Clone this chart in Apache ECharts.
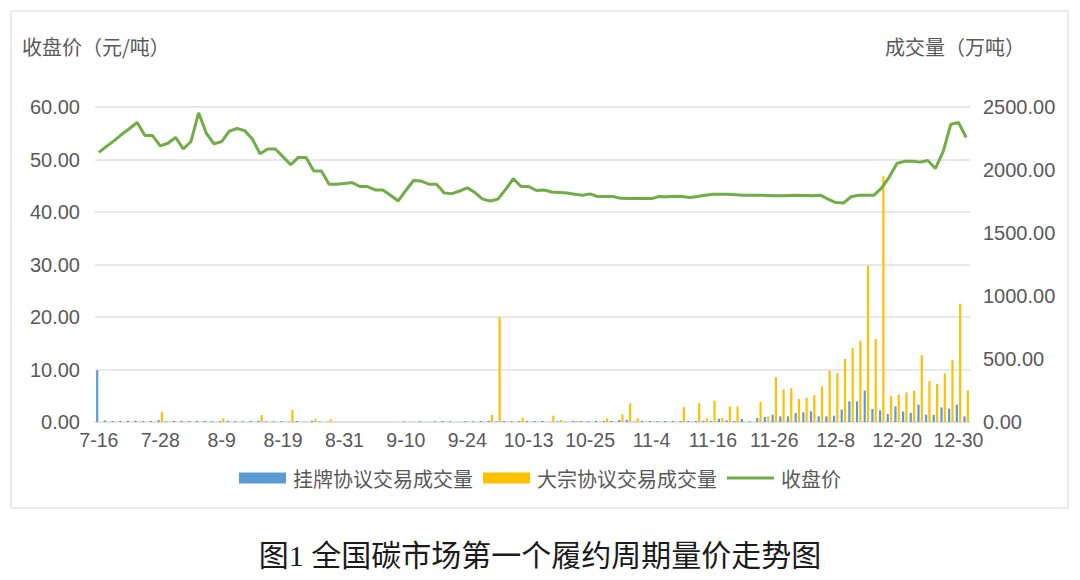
<!DOCTYPE html>
<html>
<head>
<meta charset="utf-8">
<script src="https://cdn.jsdelivr.net/npm/echarts@6/dist/echarts.min.js"></script>
<style>
html,body{margin:0;padding:0;background:#fff;}
#chart{width:1080px;height:580px;}
</style>
</head>
<body>
<div id="chart"></div>
<script>
var dates = [
'7-16','7-19','7-20','7-21','7-22','7-23','7-26','7-27','7-28','7-29','7-30',
'8-2','8-3','8-4','8-5','8-6','8-9','8-10','8-11','8-12','8-13','8-16','8-17','8-18','8-19','8-20','8-23','8-24','8-25','8-26','8-27','8-30','8-31',
'9-1','9-2','9-3','9-6','9-7','9-8','9-9','9-10','9-13','9-14','9-15','9-16','9-17','9-22','9-23','9-24','9-27','9-28','9-29','9-30',
'10-8','10-11','10-12','10-13','10-14','10-15','10-18','10-19','10-20','10-21','10-22','10-25','10-26','10-27','10-28','10-29',
'11-1','11-2','11-3','11-4','11-5','11-8','11-9','11-10','11-11','11-12','11-15','11-16','11-17','11-18','11-19','11-22','11-23','11-24','11-25','11-26','11-29','11-30',
'12-1','12-2','12-3','12-6','12-7','12-8','12-9','12-10','12-13','12-14','12-15','12-16','12-17','12-20','12-21','12-22','12-23','12-24','12-27','12-28','12-29','12-30','12-31'
];

var closePrice = [
51.35,52.5,53.6,54.8,55.9,57.05,54.55,54.55,52.6,53.1,54.2,
52.0,53.4,58.9,55.0,53.0,53.4,55.4,55.9,55.5,53.9,51.1,52.0,52.0,50.5,49.0,50.4,50.4,47.8,47.8,45.3,45.3,45.45,
45.6,44.85,44.85,44.2,44.2,43.2,42.1,44.1,46.0,45.9,45.3,45.3,43.6,43.5,44.0,44.6,43.7,42.45,42.1,42.45,
44.3,46.35,44.85,44.85,44.1,44.2,43.8,43.7,43.6,43.4,43.2,43.45,42.95,42.95,42.95,42.6,
42.55,42.55,42.55,42.55,42.95,42.9,43.0,42.95,42.75,42.95,43.2,43.4,43.4,43.4,43.3,43.2,43.2,43.2,43.15,43.1,43.1,43.15,
43.2,43.15,43.1,43.2,42.45,41.8,41.7,42.9,43.2,43.2,43.2,44.6,46.7,49.3,49.65,49.65,49.5,49.8,48.3,51.5,56.7,57.05,54.2
];

var listedVolume = [
410,12,8,10,9,11,7,9,14,6,8,
10,7,9,8,6,8,10,7,6,8,9,5,6,7,3,8,2,10,4,3,1,1,
0.5,0.5,0.5,0.5,0.5,0.5,0.5,5,1,6,1,6,8,6,1,7,6,8,10,5,
8,7,7,9,7,8,2,6,2,8,7,7,9,8,9,15,
18,3,8,8,7,8,7,8,9,8,10,8,25,13,8,24,6,32,40,58,45,45,
71,77,85,45,45,50,98,164,164,249,103,93,64,124,82,71,138,58,56,116,106,138,45
];

var blockVolume = [
0,0,0,0,0,0,0,0,80,0,0,
0,0,0,0,0,30,0,0,0,0,55,0,0,0,95,0,0,24,0,24,0,0,
0,0,0,0,0,0,0,0,0,0,0,0,0,0,0,0,0,0,55,833,
0,0,34,0,0,0,50,15,0,8,0,0,0,29,0,61,
148,29,0,0,0,0,0,121,0,148,29,169,32,124,124,0,0,159,45,355,257,267,
183,193,214,283,407,389,500,587,646,1241,659,1950,204,214,235,249,529,325,302,384,490,939,251
];

var leftTicks = {min: 0, max: 60, interval: 10};
var rightTicks = {min: 0, max: 2500, interval: 500};

var txt = '#595959';
var numFont = "'Liberation Sans', 'Noto Sans CJK SC', sans-serif";
var cjkFont = "'Noto Sans CJK SC', 'Liberation Sans', sans-serif";

var chart = echarts.init(document.getElementById('chart'), null, {renderer: 'svg'});
chart.setOption({
  backgroundColor: '#ffffff',
  animation: false,
  title: {
    text: '图1 全国碳市场第一个履约周期量价走势图',
    left: 'center',
    top: 535,
    textStyle: {fontFamily: "'Liberation Serif', 'Noto Sans CJK SC', serif", fontSize: 30, fontWeight: 'normal', color: '#1a1a1a'}
  },
  graphic: [
    {type: 'rect', shape: {x: 11, y: 11, width: 1057, height: 497}, style: {fill: 'none', stroke: '#e2e4ea', lineWidth: 1.5}, z: -1},
    {type: 'text', left: 22, top: 36, style: {text: '收盘价（元/吨）', fontFamily: cjkFont, fontSize: 20, fill: txt}},
    {type: 'text', right: 55, top: 36, style: {text: '成交量（万吨）', fontFamily: cjkFont, fontSize: 20, fill: txt}}
  ],
  legend: {
    top: 463,
    left: 'center',
    itemWidth: 47,
    itemHeight: 11,
    itemGap: 10,
    symbolKeepAspect: true,
    textStyle: {fontFamily: cjkFont, fontSize: 20, color: txt, padding: [0, 0, 0, 2]},
    data: [
      {name: '挂牌协议交易成交量', icon: 'rect'},
      {name: '大宗协议交易成交量', icon: 'rect'},
      {name: '收盘价', icon: 'path://M0,0L47,0L47,3L0,3Z'}
    ]
  },
  grid: {left: 95, right: 110, top: 107, bottom: 158, containLabel: false},
  xAxis: {
    type: 'category',
    data: dates,
    boundaryGap: true,
    axisTick: {show: false},
    axisLine: {lineStyle: {color: '#dfe1e8', width: 1.5}},
    axisLabel: {interval: 7, color: txt, fontSize: 19.5, fontFamily: numFont, margin: 8}
  },
  yAxis: [
    {
      type: 'value',
      min: leftTicks.min, max: leftTicks.max, interval: leftTicks.interval,
      axisLine: {show: false},
      axisTick: {show: false},
      splitLine: {lineStyle: {color: '#dfe1e8', width: 1.5}},
      axisLabel: {color: txt, fontSize: 20, fontFamily: numFont, margin: 15,
        formatter: function (v) { return v.toFixed(2); }}
    },
    {
      type: 'value',
      min: rightTicks.min, max: rightTicks.max, interval: rightTicks.interval,
      axisLine: {show: false},
      axisTick: {show: false},
      splitLine: {show: false},
      axisLabel: {color: txt, fontSize: 20, fontFamily: numFont, margin: 13,
        formatter: function (v) { return v.toFixed(2); }}
    }
  ],
  series: [
    {
      name: '挂牌协议交易成交量',
      type: 'bar',
      yAxisIndex: 1,
      data: listedVolume,
      barWidth: 2.2,
      barGap: '50%',
      itemStyle: {color: '#5B9BD5'}
    },
    {
      name: '大宗协议交易成交量',
      type: 'bar',
      yAxisIndex: 1,
      data: blockVolume,
      barWidth: 2.2,
      barGap: '50%',
      itemStyle: {color: '#FFC000'}
    },
    {
      name: '收盘价',
      type: 'line',
      yAxisIndex: 0,
      data: closePrice,
      symbol: 'none',
      lineStyle: {color: '#70AD47', width: 3},
      itemStyle: {color: '#70AD47'},
      z: 5
    }
  ]
});
</script>
</body>
</html>
